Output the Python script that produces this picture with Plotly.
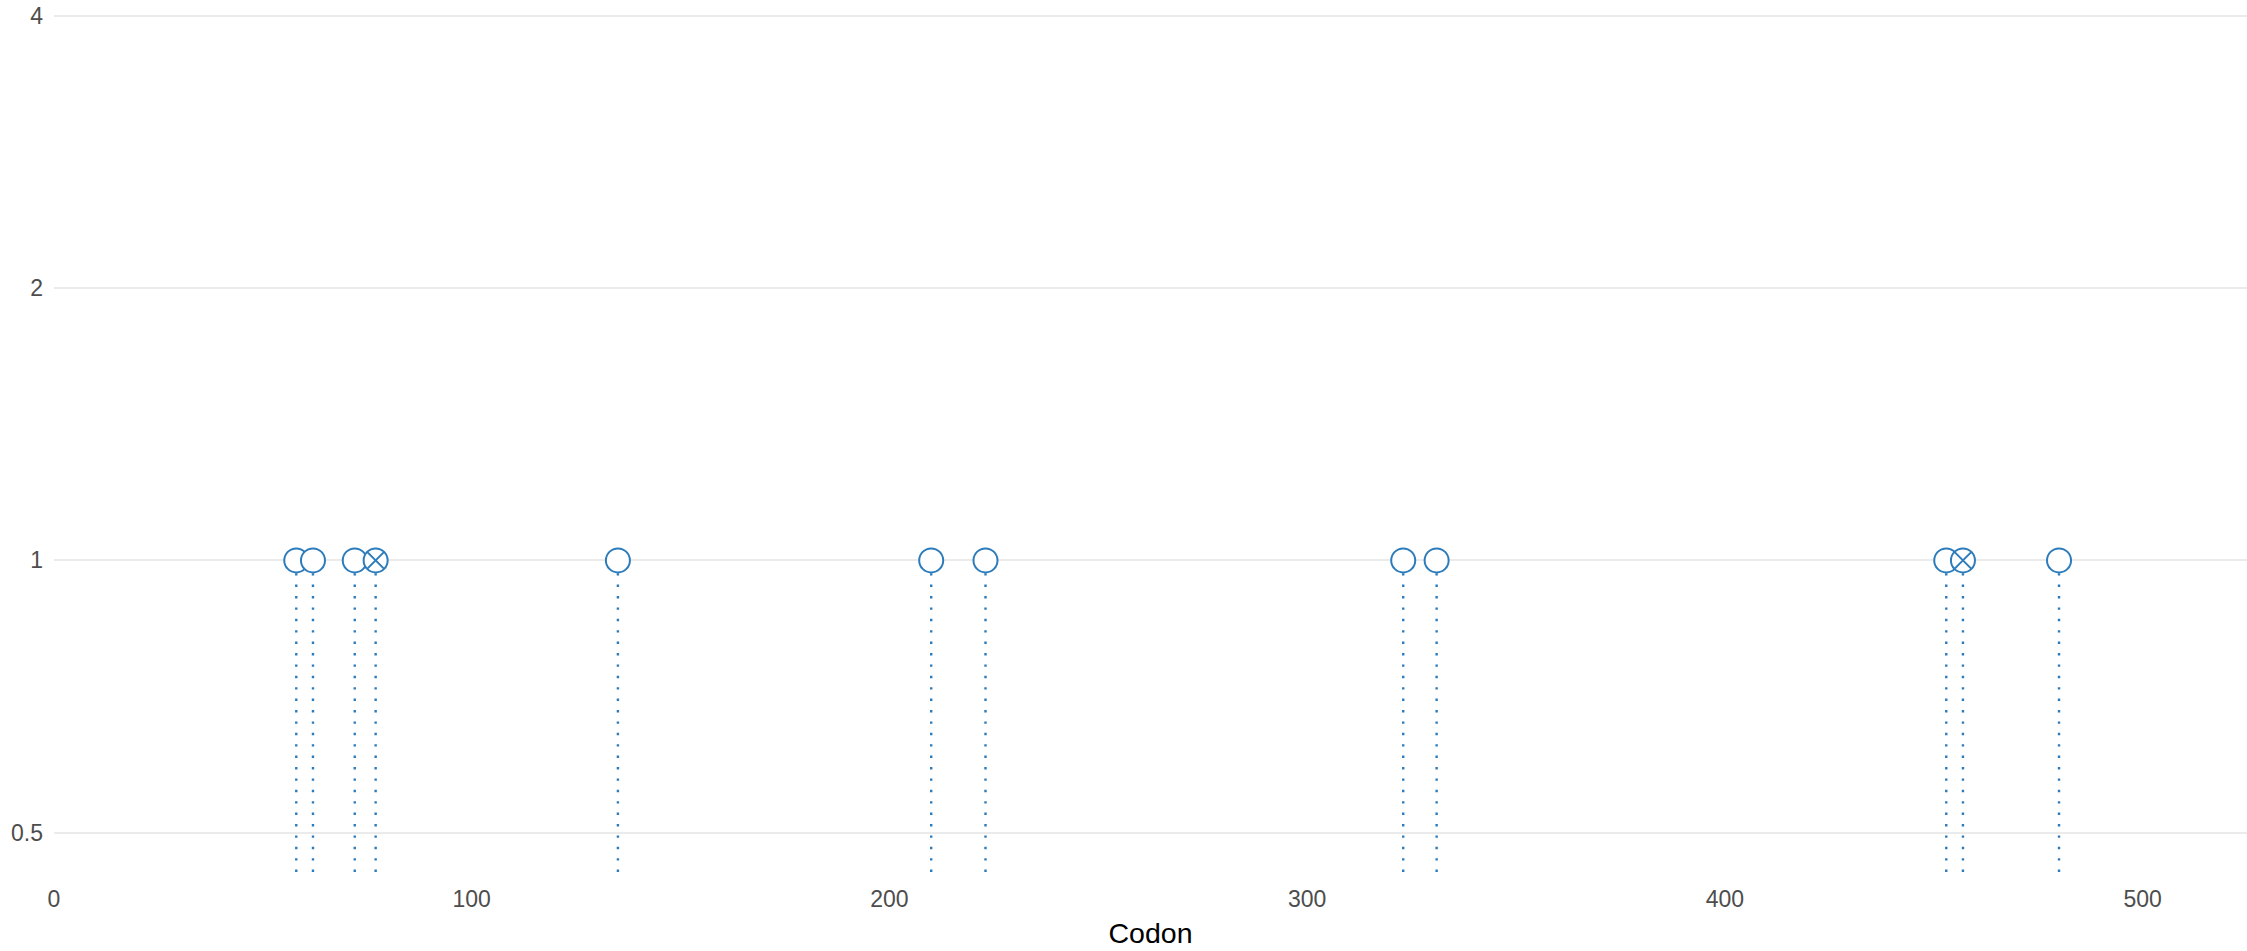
import math
import plotly.graph_objects as go

# Data
codons = [58, 62, 72, 77, 135, 210, 223, 323, 331, 453, 457, 480]
values = [1, 1, 1, 1, 1, 1, 1, 1, 1, 1, 1, 1]
crossed = [False, False, False, True, False, False, False, False, False, False, True, False]

x_ticks = [0, 100, 200, 300, 400, 500]
y_ticks = [0.5, 1, 2, 4]
y_tick_text = ["0.5", "1", "2", "4"]

COLOR = "#2c7bbb"
X_RANGE = [0, 525]
Y_LOG_RANGE = [-1.1448 * math.log10(2), 2.0588 * math.log10(2)]
y_floor = 10 ** Y_LOG_RANGE[0]

fig = go.Figure()

for cx, v in zip(codons, values):
    fig.add_trace(go.Scatter(
        x=[cx, cx], y=[y_floor, v], mode="lines",
        line=dict(color=COLOR, width=2.4, dash="2.4px,9px"),
        hoverinfo="skip", showlegend=False,
    ))

fig.add_trace(go.Scatter(
    x=codons, y=values, mode="markers",
    marker=dict(
        size=24,
        color="white",
        symbol=["circle-x" if c else "circle" for c in crossed],
        line=dict(color=COLOR, width=2),
    ),
    showlegend=False,
))

fig.update_layout(
    width=2247, height=951,
    margin=dict(l=54, r=0, t=0, b=79, autoexpand=False),
    paper_bgcolor="white", plot_bgcolor="white",
    font=dict(family="Liberation Sans, Arial, sans-serif", color="#4d4d4d", size=23),
    xaxis=dict(
        range=X_RANGE, tickvals=x_ticks, ticktext=[str(t) for t in x_ticks],
        showgrid=False, zeroline=False, showline=False, ticks="",
        automargin=False, ticklabeloverflow="allow",
        ticklabelstandoff=11,
        tickfont=dict(size=23, color="#4d4d4d"),
        title=dict(text="Codon", font=dict(size=28.5, color="black"), standoff=12),
    ),
    yaxis=dict(
        type="log", range=Y_LOG_RANGE, tickvals=y_ticks, ticktext=y_tick_text,
        showgrid=True, gridcolor="#ebebeb", gridwidth=2,
        zeroline=False, showline=False, ticks="",
        automargin=False, ticklabeloverflow="allow",
        ticklabelstandoff=10,
        tickfont=dict(size=23, color="#4d4d4d"),
    ),
)

fig.write_html(
    "out.html",
    config={"displayModeBar": False},
    post_script="document.body.style.margin='0';document.body.style.overflow='hidden';",
)
